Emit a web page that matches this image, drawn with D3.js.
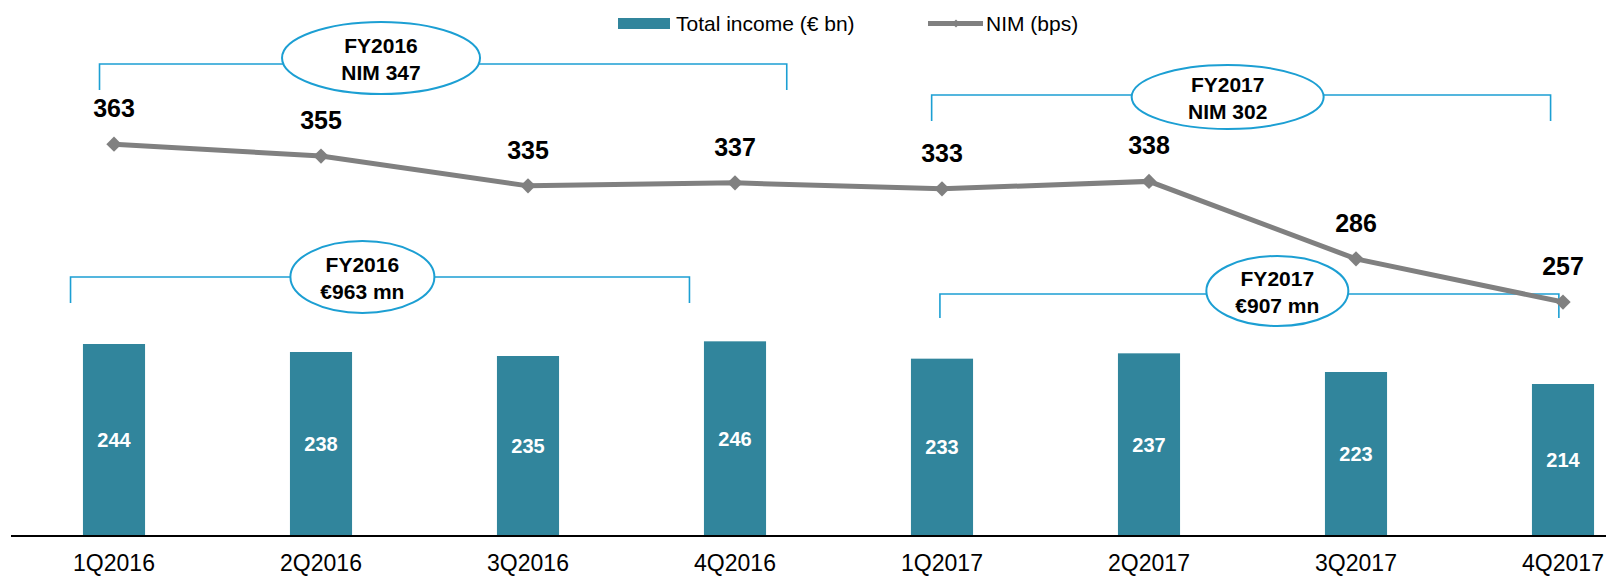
<!DOCTYPE html>
<head>
<title>Total income and NIM by quarter</title>
  <style>
  body { margin: 0; background: #fff; }
  text { font-family: "Liberation Sans", Arial, sans-serif; }
  .bar { fill: #31859C; }
  </style>
</head>

<body>

  <script src="https://cdn.jsdelivr.net/npm/d3@7"></script>

  <script>

    // data
    var quarters = ["1Q2016", "2Q2016", "3Q2016", "4Q2016", "1Q2017", "2Q2017", "3Q2017", "4Q2017"];
    var totalIncome = [244, 238, 235, 246, 233, 237, 223, 214];
    var nim = [363, 355, 335, 337, 333, 338, 286, 257];

    // annotation brackets: span in quarter index units, two lines of text
    var bracketFrom = [-0.07, 3.95, -0.21, 3.99];
    var bracketTo = [3.25, 6.94, 2.78, 6.98];
    var bracketLabel1 = ["FY2016", "FY2017", "FY2016", "FY2017"];
    var bracketLabel2 = ["NIM 347", "NIM 302", "€963 mn", "€907 mn"];

    var width = 1606, height = 576;

    var svg = d3.select("body").append("svg")
                .attr("width", width)
                .attr("height", height);

    // x scale, plot runs off the right edge like the original
    var x = d3.scaleBand().domain(quarters)
              .range([10.5, 1666.5])
              .paddingInner(0.7).paddingOuter(0.35);
    var xi = d3.scaleLinear().domain([0, 7])
               .range([x(quarters[0]) + x.bandwidth() / 2, x(quarters[7]) + x.bandwidth() / 2]);

    // two independent y scales
    var yBar = d3.scaleLinear().domain([100, 400]).range([536, 136]);
    var yLine = d3.scaleLinear().domain([200, 400]).range([387, 89]);

    var blue = "#1C9FD3", grey = "#808080";

    // bars
    svg.selectAll(".bar")
       .data(totalIncome)
       .enter().append("rect")
       .attr("class", "bar")
       .attr("x", function(d, i) { return x(quarters[i]); })
       .attr("width", x.bandwidth())
       .attr("y", function(d) { return yBar(d); })
       .attr("height", function(d) { return yBar.range()[0] - yBar(d); });

    svg.selectAll(".barlabel")
       .data(totalIncome)
       .enter().append("text")
       .attr("class", "barlabel")
       .attr("x", function(d, i) { return x(quarters[i]) + x.bandwidth() / 2; })
       .attr("y", function(d) { return (yBar(d) + yBar.range()[0]) / 2 + 7; })
       .attr("text-anchor", "middle")
       .style("font-size", "20px")
       .style("font-weight", "bold")
       .style("fill", "#fff")
       .text(function(d) { return d; });

    // x axis
    var xAxis = svg.append("g")
       .attr("transform", "translate(0,536)")
       .call(d3.axisBottom(x).tickSize(0).tickPadding(0));
    xAxis.select(".domain").remove();
    xAxis.append("line")
       .attr("x1", 11).attr("x2", width)
       .attr("stroke", "#000").attr("stroke-width", 2);
    xAxis.selectAll(".tick text")
       .attr("y", 35).attr("dy", null)
       .style("font-size", "23px")
       .style("font-family", "'Liberation Sans', Arial, sans-serif")
       .style("fill", "#000");

    // brackets
    var bracketY = [64, 95, 277, 294];
    var bracketDrop = [26, 26, 26, 24];
    var ellipseCy = [58, 97, 277, 291];
    var ellipseRx = [99, 96, 72, 71];
    var ellipseRy = [36, 32, 36, 35];
    var ellipseAt = [1.29, 5.38, 1.2, 5.62];

    bracketFrom.forEach(function(f, i) {
      var g = svg.append("g");
      var x0 = xi(f), x1 = xi(bracketTo[i]), by = bracketY[i];
      g.append("path")
       .attr("d", "M" + x0 + "," + (by + bracketDrop[i]) + "V" + by + "H" + x1 + "V" + (by + bracketDrop[i]))
       .attr("fill", "none")
       .attr("stroke", blue)
       .attr("stroke-width", 1.6);
      g.append("ellipse")
       .attr("cx", xi(ellipseAt[i]))
       .attr("cy", ellipseCy[i])
       .attr("rx", ellipseRx[i])
       .attr("ry", ellipseRy[i])
       .attr("fill", "#fff")
       .attr("stroke", blue)
       .attr("stroke-width", 2);
      g.append("text")
       .attr("x", xi(ellipseAt[i]))
       .attr("y", ellipseCy[i] - 5)
       .attr("text-anchor", "middle")
       .style("font-size", "21px")
       .style("font-weight", "bold")
       .text(bracketLabel1[i]);
      g.append("text")
       .attr("x", xi(ellipseAt[i]))
       .attr("y", ellipseCy[i] + 22)
       .attr("text-anchor", "middle")
       .style("font-size", "21px")
       .style("font-weight", "bold")
       .text(bracketLabel2[i]);
    });

    // NIM line
    var line = d3.line()
       .x(function(d, i) { return xi(i); })
       .y(function(d) { return yLine(d); });

    svg.append("path")
       .datum(nim)
       .attr("d", line)
       .attr("fill", "none")
       .attr("stroke", grey)
       .attr("stroke-width", 5);

    svg.selectAll(".marker")
       .data(nim)
       .enter().append("path")
       .attr("class", "marker")
       .attr("d", d3.symbol(d3.symbolDiamond2, 150))
       .attr("transform", function(d, i) { return "translate(" + xi(i) + "," + yLine(d) + ")"; })
       .attr("fill", grey);

    svg.selectAll(".nimlabel")
       .data(nim)
       .enter().append("text")
       .attr("class", "nimlabel")
       .attr("x", function(d, i) { return xi(i); })
       .attr("y", function(d) { return yLine(d) - 27; })
       .attr("text-anchor", "middle")
       .style("font-size", "25px")
       .style("font-weight", "bold")
       .text(function(d) { return d; });

    // legend
    var legend = svg.append("g");
    legend.append("rect")
       .attr("x", 618).attr("y", 18)
       .attr("width", 52).attr("height", 11)
       .attr("fill", "#31859C");
    legend.append("text")
       .attr("x", 676).attr("y", 31)
       .style("font-size", "21px")
       .text("Total income (€ bn)");
    legend.append("line")
       .attr("x1", 928).attr("x2", 983)
       .attr("y1", 23.5).attr("y2", 23.5)
       .attr("stroke", grey).attr("stroke-width", 5);
    legend.append("path")
       .attr("d", d3.symbol(d3.symbolDiamond2, 40))
       .attr("transform", "translate(956,23.5)")
       .attr("fill", grey);
    legend.append("text")
       .attr("x", 986).attr("y", 31)
       .style("font-size", "21px")
       .text("NIM (bps)");

  </script>

</body>
